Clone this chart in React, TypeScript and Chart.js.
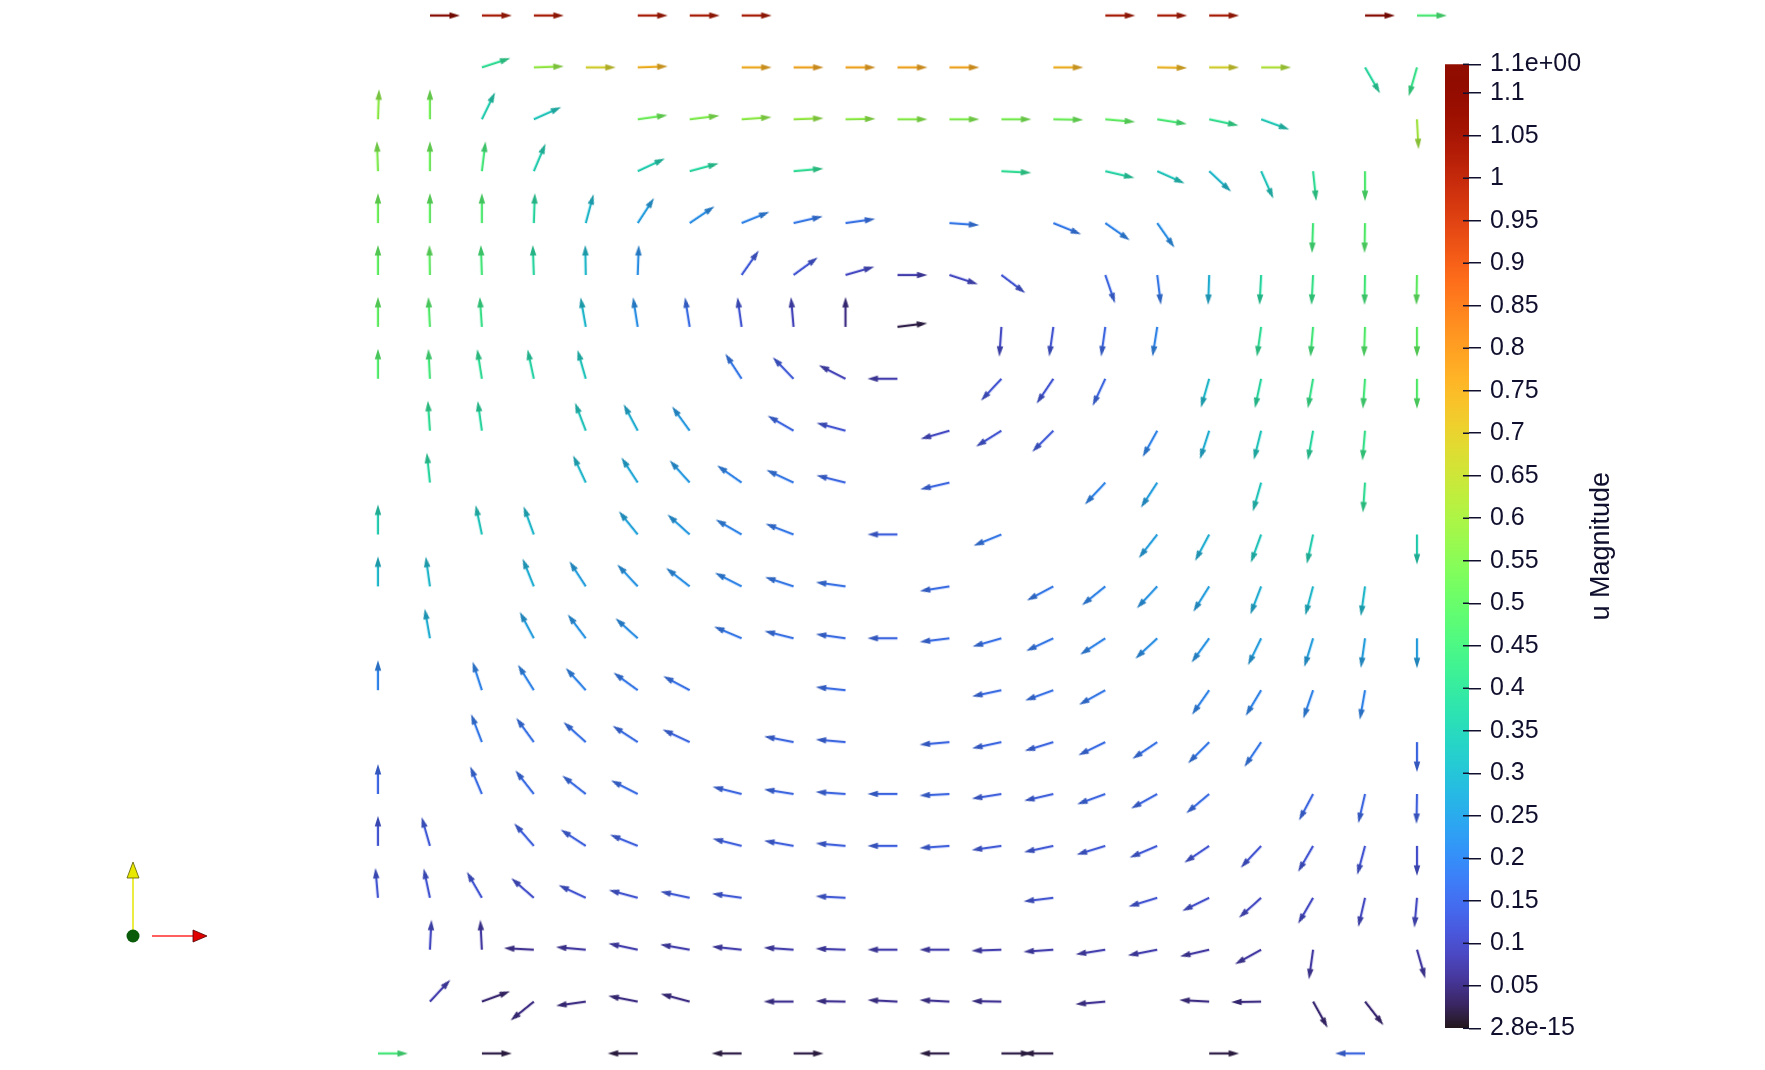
import { useEffect, useRef } from "react";
import { Chart, registerables } from "chart.js";

Chart.register(...registerables);

// glyph rows, top (row 0, the lid) to bottom (row 20)
// each glyph: [column, direction in degrees (counter-clockwise from +x), |u|]
const row00 = [[1, 0, 1.13], [2, 0, 1.03], [3, 0, 1.03], [5, 0, 1.03], [6, 0, 1.03], [7, 0, 1.03], [14, 0, 1.03], [15, 0, 1.03], [16, 0, 1.03], [19, 0, 1.13], [20, 0, 0.46]];
const row01 = [[2, 18, 0.4], [3, 2, 0.58], [4, 0, 0.68], [5, 2, 0.75], [7, 0, 0.76], [8, 0, 0.77], [9, 0, 0.77], [10, 0, 0.77], [11, 0, 0.77], [13, 0, 0.75], [15, -1, 0.74], [16, 0, 0.68], [17, 0, 0.62], [19, -60, 0.38], [20, -106, 0.42]];
const row02 = [[0, 88, 0.57], [1, 90, 0.53], [2, 64, 0.35], [3, 24, 0.33], [5, 8, 0.52], [6, 7, 0.55], [7, 4, 0.57], [8, 2, 0.58], [9, 1, 0.57], [10, 0, 0.56], [11, 0, 0.55], [12, 0, 0.54], [13, -1, 0.52], [14, -5, 0.5], [15, -9, 0.46], [16, -12, 0.41], [17, -20, 0.34], [20, -87, 0.6]];
const row03 = [[0, 92, 0.55], [1, 90, 0.52], [2, 83, 0.45], [3, 67, 0.35], [5, 25, 0.35], [6, 15, 0.38], [8, 5, 0.4], [12, -3, 0.4], [14, -13, 0.37], [15, -24, 0.33], [16, -43, 0.3], [17, -66, 0.33], [18, -84, 0.4], [19, -90, 0.47]];
const row04 = [[0, 90, 0.52], [1, 90, 0.5], [2, 90, 0.47], [3, 88, 0.38], [4, 75, 0.3], [5, 57, 0.25], [6, 34, 0.22], [7, 22, 0.2], [8, 13, 0.18], [9, 8, 0.17], [11, -4, 0.18], [13, -22, 0.18], [14, -35, 0.2], [15, -55, 0.22], [18, -92, 0.45], [19, -91, 0.48]];
const row05 = [[0, 90, 0.5], [1, 91, 0.5], [2, 92, 0.45], [3, 92, 0.38], [4, 91, 0.3], [5, 88, 0.22], [7, 55, 0.13], [8, 36, 0.12], [9, 16, 0.1], [10, 0, 0.08], [11, -18, 0.1], [12, -37, 0.12], [14, -71, 0.15], [15, -83, 0.18], [16, -92, 0.28], [17, -93, 0.38], [18, -93, 0.42], [19, -91, 0.45], [20, -91, 0.5]];
const row06 = [[0, 90, 0.5], [1, 93, 0.48], [2, 94, 0.42], [4, 100, 0.3], [5, 99, 0.22], [6, 99, 0.16], [7, 98, 0.12], [8, 95, 0.09], [9, 90, 0.05], [10, 7, 0.02], [12, -94, 0.1], [13, -98, 0.12], [14, -98, 0.15], [15, -99, 0.2], [17, -98, 0.4], [18, -95, 0.45], [19, -92, 0.48], [20, -90, 0.5]];
const row07 = [[0, 90, 0.48], [1, 93, 0.45], [2, 99, 0.4], [3, 102, 0.37], [4, 106, 0.33], [7, 123, 0.18], [8, 134, 0.13], [9, 153, 0.09], [10, 180, 0.08], [12, -133, 0.12], [13, -124, 0.12], [14, -115, 0.15], [16, -106, 0.3], [17, -102, 0.38], [18, -100, 0.42], [19, -94, 0.45], [20, -90, 0.48]];
const row08 = [[1, 94, 0.4], [2, 98, 0.38], [4, 111, 0.33], [5, 118, 0.28], [6, 126, 0.24], [8, 150, 0.15], [9, 165, 0.12], [11, -164, 0.1], [12, -148, 0.12], [13, -135, 0.13], [15, -119, 0.2], [16, -108, 0.28], [17, -104, 0.33], [18, -100, 0.38], [19, -95, 0.42]];
const row09 = [[1, 96, 0.38], [4, 115, 0.3], [5, 123, 0.27], [6, 132, 0.24], [7, 145, 0.2], [8, 155, 0.18], [9, 166, 0.15], [11, -167, 0.15], [14, -133, 0.2], [15, -123, 0.25], [17, -106, 0.33], [19, -94, 0.4]];
const row10 = [[0, 90, 0.35], [2, 102, 0.33], [3, 110, 0.3], [5, 129, 0.26], [6, 138, 0.24], [7, 150, 0.2], [8, 159, 0.18], [10, 180, 0.14], [12, -158, 0.18], [15, -128, 0.25], [16, -118, 0.28], [17, -110, 0.33], [18, -102, 0.35], [20, -90, 0.35]];
const row11 = [[0, 90, 0.3], [1, 98, 0.3], [3, 112, 0.28], [4, 123, 0.25], [5, 133, 0.23], [6, 142, 0.22], [7, 153, 0.2], [8, 162, 0.18], [9, 172, 0.17], [11, -171, 0.16], [13, -152, 0.18], [14, -141, 0.2], [15, -133, 0.23], [16, -122, 0.25], [17, -111, 0.28], [18, -105, 0.3], [19, -98, 0.3]];
const row12 = [[1, 100, 0.28], [3, 118, 0.25], [4, 127, 0.23], [5, 138, 0.22], [7, 157, 0.18], [8, 166, 0.17], [9, 172, 0.16], [10, 180, 0.15], [11, -173, 0.16], [12, -164, 0.17], [13, -155, 0.18], [14, -147, 0.2], [15, -137, 0.22], [16, -126, 0.23], [17, -116, 0.25], [18, -107, 0.25], [19, -98, 0.25], [20, -90, 0.25]];
const row13 = [[0, 90, 0.2], [2, 108, 0.2], [3, 122, 0.2], [4, 132, 0.2], [5, 144, 0.18], [6, 152, 0.17], [9, 174, 0.16], [12, -168, 0.16], [13, -160, 0.17], [14, -151, 0.18], [16, -125, 0.2], [17, -121, 0.2], [18, -109, 0.2], [19, -100, 0.2]];
const row14 = [[2, 111, 0.18], [3, 126, 0.17], [4, 138, 0.17], [5, 147, 0.16], [6, 155, 0.15], [8, 169, 0.15], [9, 175, 0.15], [11, -175, 0.15], [12, -168, 0.15], [13, -163, 0.15], [14, -154, 0.16], [15, -146, 0.17], [16, -135, 0.18], [17, -124, 0.18], [20, -90, 0.15]];
const row15 = [[0, 90, 0.15], [2, 113, 0.16], [3, 128, 0.16], [4, 142, 0.16], [5, 153, 0.16], [7, 166, 0.15], [8, 171, 0.15], [9, 176, 0.15], [10, 180, 0.15], [11, -177, 0.15], [12, -171, 0.14], [13, -167, 0.14], [14, -160, 0.15], [15, -151, 0.15], [16, -140, 0.16], [18, -118, 0.15], [19, -103, 0.15], [20, -91, 0.14]];
const row16 = [[0, 90, 0.12], [1, 106, 0.13], [3, 131, 0.14], [4, 147, 0.14], [5, 158, 0.14], [7, 166, 0.14], [8, 170, 0.14], [9, 175, 0.14], [10, 180, 0.14], [11, -176, 0.14], [12, -172, 0.13], [13, -168, 0.13], [14, -163, 0.13], [15, -157, 0.13], [16, -146, 0.12], [17, -133, 0.12], [18, -120, 0.12], [19, -105, 0.12], [20, -90, 0.11]];
const row17 = [[0, 95, 0.12], [1, 102, 0.12], [2, 120, 0.12], [3, 139, 0.11], [4, 155, 0.12], [5, 165, 0.12], [6, 168, 0.13], [7, 172, 0.13], [9, 177, 0.13], [13, -173, 0.12], [15, -163, 0.12], [16, -154, 0.11], [17, -138, 0.1], [18, -120, 0.1], [19, -103, 0.1], [20, -95, 0.1]];
const row18 = [[1, 87, 0.1], [2, 93, 0.07], [3, 177, 0.06], [4, 175, 0.07], [5, 168, 0.08], [6, 170, 0.08], [7, 174, 0.08], [8, 176, 0.08], [9, 178, 0.08], [10, 180, 0.08], [11, 180, 0.08], [12, -178, 0.08], [13, -176, 0.08], [14, -171, 0.08], [15, -169, 0.08], [16, -167, 0.07], [17, -151, 0.07], [18, -98, 0.07], [20, -74, 0.07]];
const row19 = [[1, 47, 0.08], [2, 20, 0.04], [3, -141, 0.05], [4, -172, 0.05], [5, 169, 0.05], [6, 165, 0.05], [8, 180, 0.06], [9, 179, 0.06], [10, 177, 0.06], [11, 177, 0.06], [12, 179, 0.06], [14, -175, 0.06], [16, 177, 0.05], [17, -179, 0.05], [18, -61, 0.04], [19, -52, 0.04]];
const row20 = [[0, 0, 0.45], [2, 0, 0.02], [5, 180, 0.02], [7, 180, 0.02], [8, 0, 0.02], [11, 180, 0.02], [12, 0, 0.02], [13, 180, 0.02], [16, 0, 0.02], [19, 180, 0.15]];

const glyphRows = [row00, row01, row02, row03, row04, row05, row06, row07, row08, row09, row10,
  row11, row12, row13, row14, row15, row16, row17, row18, row19, row20];

// colour bar: data range and tick labels
const magMin = 0;
const magMax = 1.134;
const barTickValues = [0, 0.05, 0.1, 0.15, 0.2, 0.25, 0.3, 0.35, 0.4, 0.45, 0.5, 0.55, 0.6, 0.65, 0.7, 0.75, 0.8, 0.85, 0.9, 0.95, 1, 1.05, 1.1, 1.134];
const barTickLabels = ["2.8e-15", "0.05", "0.1", "0.15", "0.2", "0.25", "0.3", "0.35", "0.4", "0.45", "0.5", "0.55", "0.6", "0.65", "0.7", "0.75", "0.8", "0.85", "0.9", "0.95", "1", "1.05", "1.1", "1.1e+00"];
const barTitle = "u Magnitude";

const TEXT = "#10102e";
const FONT = "Liberation Sans";

// turbo colour map
function turbo(t: number): [number, number, number] {
  t = Math.min(1, Math.max(0, t));
  const r = 0.13572138 + t * (4.6153926 + t * (-42.66032258 + t * (132.13108234 + t * (-152.94239396 + t * 59.28637943))));
  const g = 0.09140261 + t * (2.19418839 + t * (4.84296658 + t * (-14.18503333 + t * (4.27729857 + t * 2.82956604))));
  const b = 0.1066733 + t * (12.64194608 + t * (-60.58204836 + t * (110.36276771 + t * (-89.90310912 + t * 27.34824973))));
  const c = (v: number) => Math.round(255 * Math.min(1, Math.max(0, v)));
  return [c(r), c(g), c(b)];
}
const rgb = (c: number[], k = 1) => `rgb(${Math.round(c[0] * k)},${Math.round(c[1] * k)},${Math.round(c[2] * k)})`;

// arrow glyph sprites, tail at the sprite centre
const sprites = new Map<string, HTMLCanvasElement>();
function arrowSprite(mag: number) {
  const key = mag.toFixed(3);
  const hit = sprites.get(key);
  if (hit) return hit;
  const c = document.createElement("canvas");
  c.width = 66;
  c.height = 12;
  const g = c.getContext("2d")!;
  const col = turbo((mag - magMin) / (magMax - magMin));
  const cx = 33, cy = 6, len = 30, tip = 10.5, tipR = 3.2;
  g.fillStyle = rgb(col, 0.88);
  g.fillRect(cx, cy - 1.1, len - tip + 1, 2.2);
  g.fillStyle = rgb(col, 0.98);
  g.fillRect(cx, cy - 1.1, len - tip + 1, 1);
  g.fillStyle = rgb(col, 0.78);
  g.beginPath();
  g.moveTo(cx + len - tip, cy - tipR);
  g.lineTo(cx + len, cy);
  g.lineTo(cx + len - tip, cy + tipR);
  g.closePath();
  g.fill();
  sprites.set(key, c);
  return c;
}

const triadPlugin = {
  id: "triad",
  afterDraw(chart: Chart) {
    const ctx = chart.ctx;
    ctx.save();
    ctx.lineWidth = 1.5;
    ctx.strokeStyle = "#e6e600";
    ctx.beginPath();
    ctx.moveTo(133, 930);
    ctx.lineTo(133, 878);
    ctx.stroke();
    ctx.fillStyle = "#e8e800";
    ctx.strokeStyle = "#5a5a00";
    ctx.lineWidth = 0.8;
    ctx.beginPath();
    ctx.moveTo(127, 878);
    ctx.lineTo(133, 862);
    ctx.lineTo(139, 878);
    ctx.closePath();
    ctx.fill();
    ctx.stroke();
    ctx.lineWidth = 1.5;
    ctx.strokeStyle = "#ff2a2a";
    ctx.beginPath();
    ctx.moveTo(152, 936);
    ctx.lineTo(194, 936);
    ctx.stroke();
    ctx.fillStyle = "#e00000";
    ctx.strokeStyle = "#500000";
    ctx.lineWidth = 0.8;
    ctx.beginPath();
    ctx.moveTo(193, 930);
    ctx.lineTo(207, 936);
    ctx.lineTo(193, 942);
    ctx.closePath();
    ctx.fill();
    ctx.stroke();
    ctx.fillStyle = "#0a5c0a";
    ctx.beginPath();
    ctx.arc(133, 936, 6.5, 0, Math.PI * 2);
    ctx.fill();
    ctx.restore();
  },
};

const barExtras = {
  id: "barExtras",
  afterDraw(chart: Chart) {
    const ctx = chart.ctx;
    const area = chart.chartArea;
    const y = chart.scales.y;
    ctx.save();
    ctx.strokeStyle = TEXT;
    ctx.lineWidth = 1.5;
    for (const v of barTickValues) {
      const py = y.getPixelForValue(v);
      ctx.beginPath();
      ctx.moveTo(area.right - 6, py);
      ctx.lineTo(area.right, py);
      ctx.stroke();
    }
    ctx.fillStyle = TEXT;
    ctx.font = `27px "${FONT}"`;
    ctx.textAlign = "center";
    ctx.textBaseline = "middle";
    ctx.translate(157, (area.top + area.bottom) / 2);
    ctx.rotate(-Math.PI / 2);
    ctx.fillText(barTitle, 0, 0);
    ctx.restore();
  },
};

export default function App() {
  const fieldRef = useRef<HTMLCanvasElement | null>(null);
  const barRef = useRef<HTMLCanvasElement | null>(null);

  useEffect(() => {
    if (!fieldRef.current || !barRef.current) return;

    const points = glyphRows.flatMap((row, r) =>
      row.map(([c, a, m]) => ({ x: c, y: r, a, m }))
    );

    const field = new Chart(fieldRef.current, {
      type: "scatter",
      data: {
        datasets: [
          {
            data: points,
            pointStyle: (ctx: any) => (ctx.raw ? arrowSprite(ctx.raw.m) : "circle"),
            pointRotation: (ctx: any) => (ctx.raw ? -ctx.raw.a : 0),
            pointRadius: 4,
          } as any,
        ],
      },
      options: {
        responsive: false,
        animation: false,
        events: [],
        layout: { padding: 0, autoPadding: false },
        plugins: { legend: { display: false }, tooltip: { enabled: false } },
        scales: {
          x: { type: "linear", display: false, min: -7.276, max: 26.699 },
          y: { type: "linear", display: false, reverse: true, min: -0.2987, max: 20.318 },
        },
      },
      plugins: [triadPlugin],
    });

    const bar = new Chart(barRef.current, {
      type: "bar",
      data: {
        labels: [barTitle],
        datasets: [
          {
            data: [[magMin, magMax]] as any,
            backgroundColor: (ctx: any) => {
              const area = ctx.chart.chartArea;
              if (!area) return "#888";
              const grad = ctx.chart.ctx.createLinearGradient(0, area.bottom, 0, area.top);
              for (let i = 0; i <= 40; i++) grad.addColorStop(i / 40, rgb(turbo(i / 40)));
              return grad;
            },
            borderWidth: 0,
            barPercentage: 1,
            categoryPercentage: 1,
          },
        ],
      },
      options: {
        responsive: false,
        animation: false,
        events: [],
        layout: { padding: { top: 34.3, bottom: 41.7, left: 0, right: 0 } },
        plugins: { legend: { display: false }, tooltip: { enabled: false } },
        scales: {
          x: { display: false },
          y: {
            position: "right",
            min: magMin,
            max: magMax,
            afterFit: (s: any) => {
              s.width = 176;
            },
            afterBuildTicks: (s: any) => {
              s.ticks = barTickValues.map((v) => ({ value: v }));
            },
            ticks: {
              autoSkip: false,
              padding: 9,
              color: TEXT,
              font: { family: FONT, size: 25 },
              callback: (_v: any, i: number) => barTickLabels[i],
            },
            grid: { drawOnChartArea: false, tickLength: 12, color: TEXT, lineWidth: 1.5 },
            border: { display: false },
          },
        },
      },
      plugins: [barExtras],
    });

    return () => {
      field.destroy();
      bar.destroy();
    };
  }, []);

  return (
    <div style={{ position: "fixed", left: 0, top: 0, width: 1765, height: 1070, background: "#fff" }}>
      <canvas ref={fieldRef} width={1765} height={1070} style={{ position: "absolute", left: 0, top: 0 }} />
      <canvas ref={barRef} width={200} height={1040} style={{ position: "absolute", left: 1445, top: 30 }} />
    </div>
  );
}
